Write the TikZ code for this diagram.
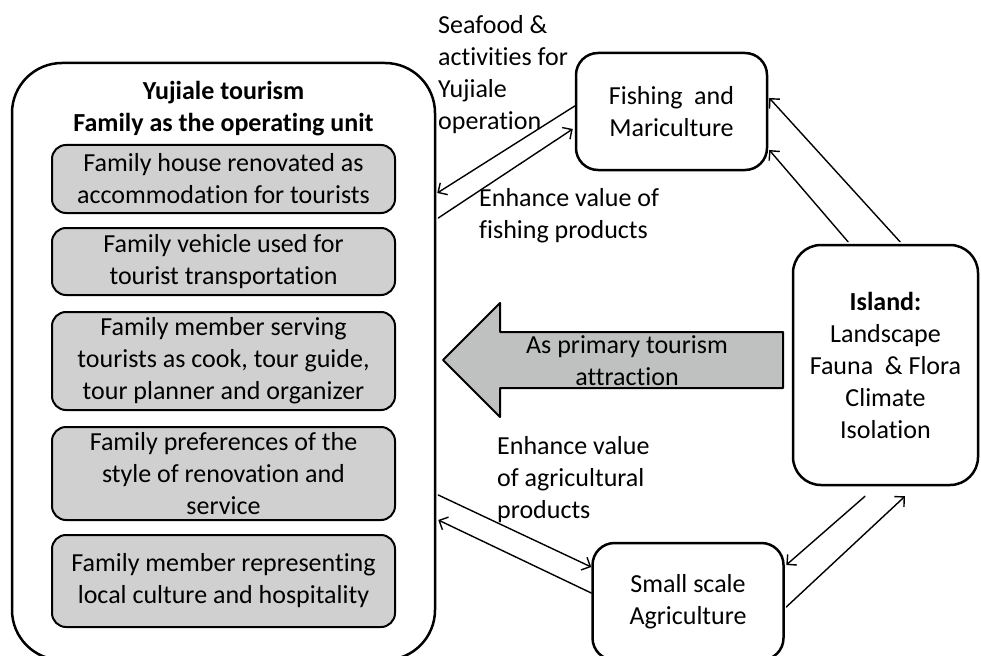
\documentclass[tikz,border=0pt]{standalone}
\usepackage{fontspec}
\setmainfont{Carlito}[Ligatures=NoCommon]
\usetikzlibrary{arrows.meta,calc}

\definecolor{itemgray}{RGB}{208,208,208}
\definecolor{arrowgray}{RGB}{191,193,193}

\tikzset{
  bigbox/.style={draw,line width=2.5pt,rounded corners=50pt,minimum width=423pt,minimum height=597pt},
  famitem/.style={draw,line width=2pt,fill=itemgray,rounded corners=14pt,minimum width=343pt,align=center,inner sep=0pt},
  sourcebox/.style={draw,line width=2.5pt,rounded corners=22pt,align=center,fill=white,inner sep=0pt},
  flow/.style={line width=1.4pt,-{Straight Barb[length=7pt,width=14pt]}},
  lbl/.style={align=left,anchor=west,inner sep=0pt}
}

\begin{document}
\begin{tikzpicture}
    [x=1pt,y=-1pt,line cap=round,line join=round,
     every node/.style={font=\fontsize{26}{32}\selectfont}]
\useasboundingbox (0,0) rectangle (981,655);
\clip (0,0) rectangle (981,655);
%the family unit
\node[bigbox] (main) at (223.5,361.5) {};
\node[align=center,font=\fontsize{26}{32}\selectfont\bfseries] (head) at (223.5,109)
    {Yujiale tourism\\Family as the operating unit};
\node[famitem,minimum height=68pt] (item1) at (223.5,179)
    {Family house renovated as\\accommodation for tourists};
\node[famitem,minimum height=67pt] (item2) at (223.5,261.5)
    {Family vehicle used for\\tourist transportation};
\node[famitem,minimum height=98pt] (item3) at (223.5,361)
    {Family member serving\\tourists as cook, tour guide,\\tour planner and organizer};
\node[famitem,minimum height=93pt] (item4) at (223.5,473.5)
    {Family preferences of the\\style of renovation and\\service};
\node[famitem,minimum height=92pt] (item5) at (223.5,581)
    {Family member representing\\local culture and hospitality};
%resources
\node[sourcebox,minimum width=191pt,minimum height=117pt] (fish) at (671.5,111.5)
    {Fishing\ \ and\\Mariculture};
\node[sourcebox,minimum width=185pt,minimum height=240pt,rounded corners=28pt] (island) at (885.5,365)
    {\textbf{Island:}\\Landscape\\Fauna\ \ \& Flora\\Climate\\Isolation};
\node[sourcebox,minimum width=191pt,minimum height=117pt] (agri) at (688,601.5)
    {Small scale\\Agriculture};
%big arrow
\draw[line width=2pt,fill=arrowgray] (783,332) -- (500,332) -- (500,303) -- (443,360)
    -- (500,417) -- (500,388) -- (783,388) -- cycle;
\node[align=center] (attract) at (627,361) {As primary tourism\\attraction};
%flows
\draw[flow] ($(fish.west)+(0,-5.5)$) -- ($(main.east)+(1,-168.5)$);
\draw[flow] ($(main.east)+(2,-143.5)$) -- ($(fish.west)+(-2,17.5)$);
\draw[flow] ($(island.north)+(14.5,-2)$) -- ($(fish.east)+(1,-13.5)$);
\draw[flow] ($(island.north)+(-37.5,-2)$) -- ($(fish.east)+(1,38.5)$);
\draw[flow] ($(main.east)+(2,133.5)$) -- ($(agri.west)+(0,-34.5)$);
\draw[flow] ($(agri.west)+(0,-8.5)$) -- ($(main.east)+(2,158.5)$);
\draw[flow] ($(island.south)+(-20.5,10)$) -- ($(agri.east)+(1.5,-36.5)$);
\draw[flow] ($(agri.east)+(1.5,5.5)$) -- ($(island.south)+(19.5,10)$);
%labels
\node[lbl] (seafood) at (438,74.5) {Seafood \&\\activities for\\Yujiale\\operation};
\node[lbl] (fishval) at (479,216) {Enhance value of\\fishing products};
\node[lbl] (agrival) at (497,480) {Enhance value\\of agricultural\\products};
\end{tikzpicture}
\end{document}
